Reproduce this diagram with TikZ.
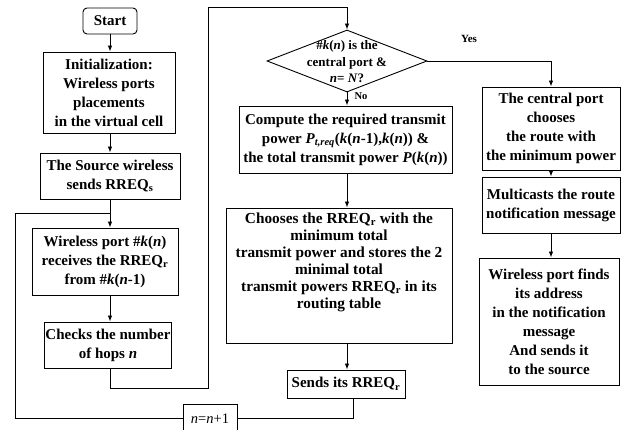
\documentclass[tikz,border=0pt]{standalone}
\usepackage{fontspec}
\setmainfont{Liberation Serif}
\usetikzlibrary{arrows.meta,shapes.geometric}

\tikzset{
  stepbox/.style={draw,line width=0.9pt,align=center,inner sep=1pt,
    font=\bfseries\fontsize{15}{19}\selectfont},
  arr/.style={-{Latex[length=6pt,width=4.5pt]},line width=0.9pt},
  ln/.style={line width=0.9pt},
  lbl/.style={font=\bfseries\fontsize{11}{13}\selectfont,inner sep=0pt},
}
\newcommand{\ital}[1]{\textit{#1}}

\begin{document}
\begin{tikzpicture}[x=1pt,y=-1pt]
  \useasboundingbox (0,0) rectangle (627,430);

  % left column
  \node[stepbox,rounded corners=4pt,minimum width=54pt,minimum height=26pt] (start) at (110,21) {Start};
  \node[stepbox,minimum width=132pt,minimum height=81pt] (init) at (109,92.5)
    {Initialization:\\Wireless ports\\placements\\in the virtual cell};
  \node[stepbox,minimum width=140pt,minimum height=46pt] (src) at (110,176)
    {The Source wireless\\sends RREQ\textsubscript{s}};
  \node[stepbox,minimum width=146pt,minimum height=67pt] (recv) at (105,261.5)
    {Wireless port \#\ital{k}(\ital{n})\\receives the RREQ\textsubscript{r}\\from \#\ital{k}(\ital{n}-1)};
  \node[stepbox,minimum width=124pt,minimum height=46pt] (chk) at (108,345)
    {Checks the number\\of hops \ital{n}};
  \node[stepbox,font=\fontsize{14.5}{17}\selectfont,minimum width=54pt,minimum height=29pt] (inc) at (210,418.5)
    {\ital{n}=\ital{n}+1};

  % middle column
  \node[draw,diamond,line width=0.9pt,minimum width=160pt,minimum height=62pt,inner sep=0pt] (dec) at (347,61) {};
  \node[align=center,inner sep=0pt,font=\bfseries\fontsize{13}{16.5}\selectfont] (dectxt) at (347,62)
    {\#\ital{k}(\ital{n}) is the\\central port \&\\\ital{n}= \ital{N}?};
  \node[stepbox,minimum width=213pt,minimum height=67pt] (comp) at (345.5,139.5)
    {Compute the required transmit\\power \ital{P}\textsubscript{\ital{t,req}}(\ital{k}(\ital{n}-1),\ital{k}(\ital{n})) \&\\the total transmit power \ital{P}(\ital{k}(\ital{n}))};
  \node[stepbox,minimum width=226pt,minimum height=135pt] (choose) at (339,275.5) {};
  \node[align=center,anchor=north,inner sep=0pt,font=\bfseries\fontsize{15.3}{17}\selectfont] (choosetxt) at ([yshift=-5pt]choose.north)
    {Chooses the RREQ\textsubscript{r} with the\\minimum total\\transmit power and stores the 2\\minimal total\\transmit powers RREQ\textsubscript{r} in its\\routing table};
  \node[stepbox,minimum width=118pt,minimum height=28pt] (send) at (346,384)
    {Sends its RREQ\textsubscript{r}};

  % right column
  \node[stepbox,minimum width=138pt,minimum height=83pt] (cen) at (551,128.5)
    {The central port\\chooses\\the route with\\the minimum power};
  \node[stepbox,minimum width=138pt,minimum height=56pt] (mul) at (551,205)
    {Multicasts the route\\notification message};
  \node[stepbox,minimum width=140pt,minimum height=127pt] (fin) at (549,321.5)
    {Wireless port finds\\its address\\in the notification\\message\\And sends it\\to the source};

  \node[lbl] (yes) at (469,39) {Yes};
  \node[lbl,font=\bfseries\fontsize{10.5}{12}\selectfont] (no) at (361,96) {No};

  \coordinate (j1) at (110,213);
  \coordinate (c1) at (208,388);
  \coordinate (c2) at (208,7);
  \coordinate (c3) at (15,213);

  % connectors
  \draw[arr] (start.south) -- (start.south |- init.north);
  \draw[arr] (j1 |- init.south) -- (j1 |- src.north);
  \draw[ln] (j1 |- src.south) -- (j1);
  \draw[arr] (j1) -- (j1 |- recv.north);
  \draw[arr] (j1 |- recv.south) -- (j1 |- chk.north);
  \draw[arr] (j1 |- chk.south) -- (j1 |- c1) -- (c1) -- (c2) -- (c2 -| dec.north) -- (dec.north);
  \draw[arr] (dec.east) -- (dec.east -| cen.north) -- (cen.north);
  \draw[arr] (dec.south) -- (dec.south |- comp.north);
  \draw[arr] (dec.south |- comp.south) -- (dec.south |- choose.north);
  \draw[arr] (dec.south |- choose.south) -- (dec.south |- send.north);
  \draw[ln] ([xshift=7pt]send.south) |- (inc.east);
  \draw[ln] (inc.west) -| (c3) -- (j1);
  \draw[arr] (cen.south) -- (mul.north);
  \draw[arr] (mul.south) -- (mul.south |- fin.north);
\end{tikzpicture}
\end{document}
